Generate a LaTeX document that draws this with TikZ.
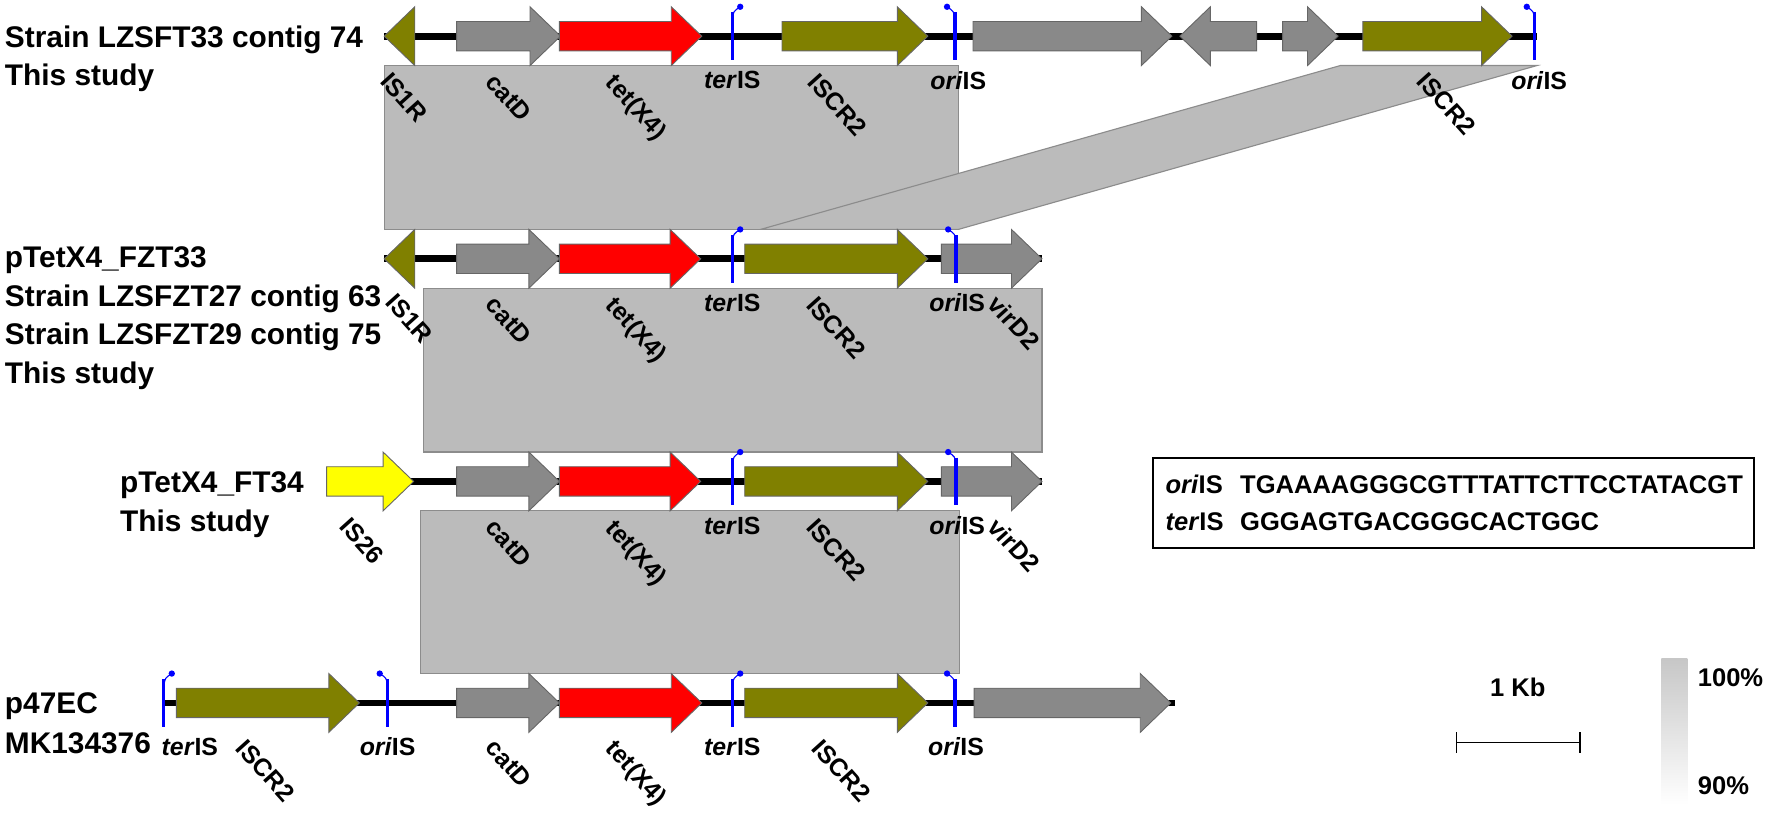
\documentclass[tikz,border=0pt]{standalone}
\usepackage{fontspec}
\setmainfont{Liberation Sans}
\usetikzlibrary{positioning}

\definecolor{isolive}{HTML}{808000}
\definecolor{genegray}{HTML}{898989}
\definecolor{tetred}{HTML}{FF0000}
\definecolor{isyellow}{HTML}{FFFF00}
\definecolor{homol}{HTML}{BBBBBB}
\definecolor{homoledge}{HTML}{8C8C8C}
\definecolor{siteblue}{HTML}{0000FF}

\tikzset{
  genebox/.style={draw=black!60, line width=0.4pt},
  olivegene/.style={genebox, fill=isolive},
  graygene/.style={genebox, fill=genegray},
  redgene/.style={genebox, fill=tetred},
  yellowgene/.style={genebox, fill=isyellow},
  homolbox/.style={fill=homol, draw=homoledge, line width=0.5pt},
  backbone/.style={line width=3pt},
  siteline/.style={draw=siteblue, line width=1.4pt},
  stalk/.style={draw=siteblue, line width=0.5pt},
  strainlab/.style={font=\fontsize{13.2}{16}\selectfont\bfseries, inner sep=0pt, anchor=base west},
  genelab/.style={font=\fontsize{11}{13}\selectfont\bfseries, inner sep=0pt},
  rotlab/.style={genelab, rotate=-48, anchor=north west},
  keylab/.style={font=\fontsize{11.3}{14}\selectfont\bfseries, inner sep=0pt, anchor=base west},
}

% gene arrows: style, start, tip, row
\newcommand{\genefwd}[4]{%
  \pgfmathsetmacro\headx{#3-27}
  \filldraw[#1] (#2,#4-13) -- (\headx,#4-13) -- (\headx,#4-26) -- (#3,#4)
    -- (\headx,#4+26) -- (\headx,#4+13) -- (#2,#4+13) -- cycle;}
% style, tip, end, row
\newcommand{\generev}[4]{%
  \pgfmathsetmacro\headx{#2+27}
  \filldraw[#1] (#3,#4-13) -- (\headx,#4-13) -- (\headx,#4-26) -- (#2,#4)
    -- (\headx,#4+26) -- (\headx,#4+13) -- (#3,#4+13) -- cycle;}
% sites: x, row
\newcommand{\termark}[2]{%
  \draw[siteline] (#1,#2-21) -- (#1,#2+21);
  \draw[stalk] (#1,#2-15) .. controls (#1+1,#2-22) .. (#1+7,#2-26);
  \fill[siteblue] (#1+7,#2-26) circle (1.4pt);}
\newcommand{\orimark}[2]{%
  \draw[siteline] (#1,#2-21) -- (#1,#2+21);
  \draw[stalk] (#1,#2-15) .. controls (#1-1,#2-22) .. (#1-7,#2-26);
  \fill[siteblue] (#1-7,#2-26) circle (1.4pt);}

\begin{document}
\begin{tikzpicture}[x=0.5pt, y=-0.5pt]
\useasboundingbox (0,0) rectangle (1568,719);

% homology blocks
\filldraw[homolbox] (340,58) rectangle (848,203);
\filldraw[homolbox] (1186,58) -- (1360,58) -- (848,203) -- (673,203) -- cycle;
\filldraw[homolbox] (375,255) rectangle (922,400);
\filldraw[homolbox] (372,452) rectangle (849,596);

% backbones
\draw[backbone] (340,32) -- (1360,32);
\draw[backbone] (340,229) -- (922,229);
\draw[backbone] (289,426) -- (922,426);
\draw[backbone] (145,622) -- (1040,622);

% row 1
\generev{olivegene}{340}{367}{32}
\genefwd{graygene}{404}{496}{32}
\genefwd{redgene}{495}{621}{32}
\termark{648}{32}
\genefwd{olivegene}{692}{821}{32}
\orimark{845}{32}
\genefwd{graygene}{861}{1037}{32}
\generev{graygene}{1044}{1112}{32}
\genefwd{graygene}{1135}{1184}{32}
\genefwd{olivegene}{1206}{1338}{32}
\orimark{1358}{32}

% rows 2 and 3
\generev{olivegene}{340}{367}{229}
\genefwd{yellowgene}{289}{366}{426}
\foreach \y in {229,426} {
  \genefwd{graygene}{404}{495}{\y}
  \genefwd{redgene}{495}{620}{\y}
  \termark{648}{\y}
  \genefwd{olivegene}{659}{821}{\y}
  \genefwd{graygene}{833}{922}{\y}
  \orimark{846}{\y}
}

% row 4
\termark{145}{622}
\genefwd{olivegene}{156}{318}{622}
\orimark{343}{622}
\genefwd{graygene}{404}{495}{622}
\genefwd{redgene}{495}{621}{622}
\termark{648}{622}
\genefwd{olivegene}{659}{821}{622}
\orimark{845}{622}
\genefwd{graygene}{862}{1036}{622}

% strain names
\node[strainlab] (r1name) at (4,42) {Strain LZSFT33 contig 74};
\node[strainlab] (r1src) at (4,76) {This study};
\node[strainlab] (r2name) at (4,237) {pTetX4\_FZT33};
\node[strainlab] (r2alt) at (4,271) {Strain LZSFZT27 contig 63};
\node[strainlab] (r2alt2) at (4,305) {Strain LZSFZT29 contig 75};
\node[strainlab] (r2src) at (4,339) {This study};
\node[strainlab] (r3name) at (106,436) {pTetX4\_FT34};
\node[strainlab] (r3src) at (106,470) {This study};
\node[strainlab] (r4name) at (4,631) {p47EC};
\node[strainlab] (r4acc) at (4,667) {MK134376};

% gene labels, row 1
\node[rotlab] (r1is) at (347,62) {IS1R};
\node[rotlab] (r1cat) at (440,63) {catD};
\node[rotlab] (r1tet) at (547,63) {tet(X4)};
\node[genelab] (r1ter) at (648,71) {\textit{ter}IS};
\node[rotlab] (r1iscr) at (725,63) {ISCR2};
\node[genelab] (r1ori) at (848,71) {\textit{ori}IS};
\node[rotlab] (r1iscrb) at (1264,62) {ISCR2};
\node[genelab] (r1orib) at (1362,71) {\textit{ori}IS};

% gene labels, rows 2 and 3
\node[rotlab] (r2is) at (352,258) {IS1R};
\node[rotlab] (r3is) at (311,456) {IS26};
\foreach \y in {229,426} {
  \node[rotlab] (cat\y) at (440,\y+31) {catD};
  \node[rotlab] (tet\y) at (547,\y+31) {tet(X4)};
  \node[genelab] (ter\y) at (648,\y+39) {\textit{ter}IS};
  \node[rotlab] (iscr\y) at (724,\y+31) {ISCR2};
  \node[genelab] (ori\y) at (847,\y+39) {\textit{ori}IS};
  \node[rotlab] (vir\y) at (885,\y+30) {virD2};
}

% gene labels, row 4
\node[genelab] (r4ter) at (168,661) {\textit{ter}IS};
\node[rotlab] (r4iscr) at (219,652) {ISCR2};
\node[genelab] (r4ori) at (343,661) {\textit{ori}IS};
\node[rotlab] (r4cat) at (440,652) {catD};
\node[rotlab] (r4tet) at (547,652) {tet(X4)};
\node[genelab] (r4terb) at (648,661) {\textit{ter}IS};
\node[rotlab] (r4iscrb) at (729,652) {ISCR2};
\node[genelab] (r4orib) at (846,661) {\textit{ori}IS};

% sequence box
\draw[line width=0.8pt] (1020,405) rectangle (1552,485);
\node[keylab] (orikey) at (1031,437) {\textit{ori}IS};
\node[keylab] (oriseq) at (1097,437) {TGAAAAGGGCGTTTATTCTTCCTATACGT};
\node[keylab] (terkey) at (1031,469) {\textit{ter}IS};
\node[keylab] (terseq) at (1097,469) {GGGAGTGACGGGCACTGGC};

% scale bar
\node[keylab, anchor=center] (kb) at (1343,608) {1 Kb};
\draw[line width=0.6pt] (1289,657) -- (1398,657);
\draw[line width=0.6pt] (1289,648) -- (1289,666);
\draw[line width=0.6pt] (1398,648) -- (1398,666);

% identity scale
\shade[top color=black!22, bottom color=white] (1470,583) rectangle (1493,712);
\node[keylab, anchor=west] (pmax) at (1502,600) {100\%};
\node[keylab, anchor=west] (pmin) at (1502,695) {90\%};
\end{tikzpicture}
\end{document}
